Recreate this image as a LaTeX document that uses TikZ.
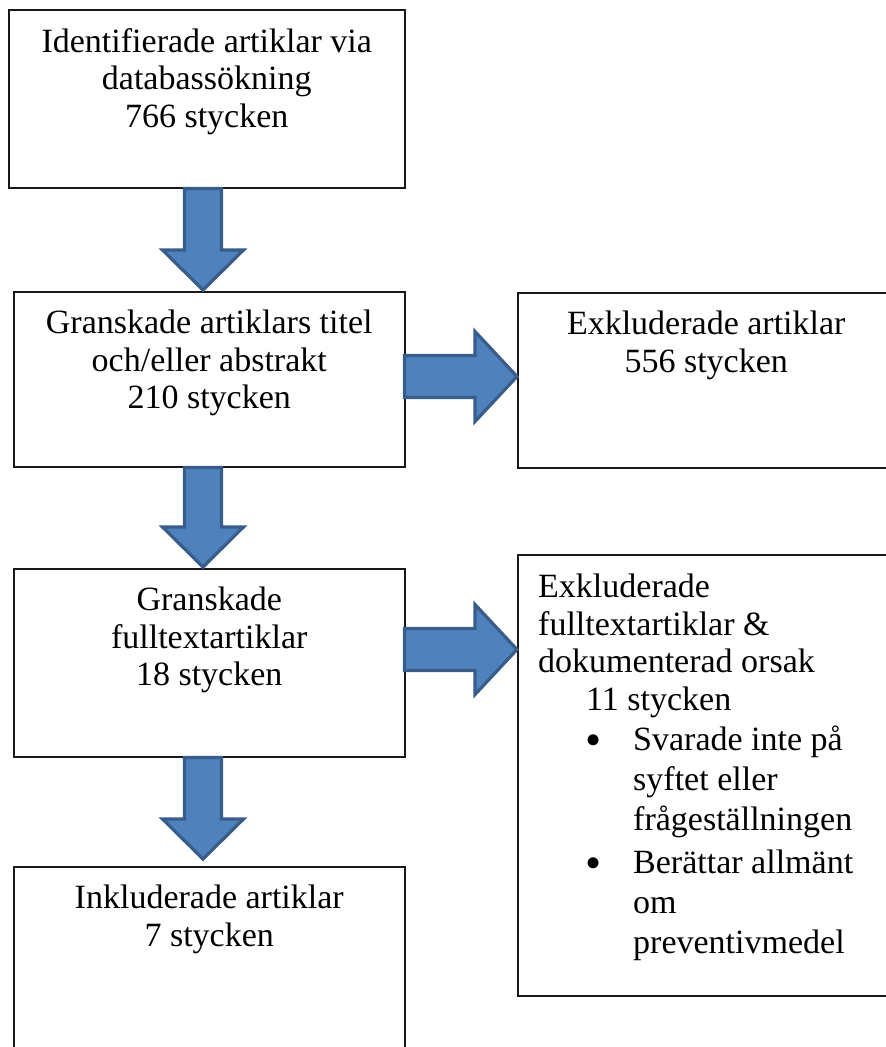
\documentclass[tikz,border=0pt]{standalone}
\usepackage{fontspec}
\setmainfont{Liberation Serif}
\usepackage{tikz}
\tikzset{every picture/.style={font issue=\fontsize{34}{37.5}},
         font issue/.style={execute at begin picture={#1\selectfont}}
        }
\usetikzlibrary{calc}
\usetikzlibrary{positioning}
\definecolor{arrowfill}{HTML}{4F81BD}
\definecolor{arrowline}{HTML}{385D8A}
\tikzstyle{stage}=[draw=black!90,line width=1.5pt,anchor=north west,inner sep=0]
\tikzstyle{stagetext}=[align=center,inner sep=0]
\tikzstyle{blockarrow}=[fill=arrowfill,draw=arrowline,line width=3.2pt]
\newcommand{\listdot}{\raisebox{-5pt}{\fontsize{46}{46}\selectfont\textbullet}}

% block arrow downwards, #1 = gap above the target
\newcommand{\flowdown}[3][0pt]{%
  \path[blockarrow] let \p1=(#2.south -| axis), \p2=(#3.north -| axis) in
    (\x1-18.5pt,\y1) -- (\x1+18.5pt,\y1) -- (\x1+18.5pt,\y2+#1+40pt)
    -- (\x1+40.5pt,\y2+#1+40pt) -- (\x1,\y2+#1) -- (\x1-40.5pt,\y2+#1+40pt)
    -- (\x1-18.5pt,\y2+#1+40pt) -- cycle;}
% block arrow to the right, #3 = level
\newcommand{\flowright}[3]{%
  \path[blockarrow] let \p1=(#1.east |- #3), \p2=(#2.west |- #3) in
    (\x1-1pt,\y1+21pt) -- (\x2-42pt,\y1+21pt) -- (\x2-42pt,\y1+45pt)
    -- (\x2,\y1) -- (\x2-42pt,\y1-45pt) -- (\x2-42pt,\y1-21pt)
    -- (\x1-1pt,\y1-21pt) -- cycle;}

\begin{document}
\begin{tikzpicture}[x=1pt,y=-1pt]
	\useasboundingbox (0,0) rectangle (886,1047);
	\clip (0,0) rectangle (886,1047);
	
	\node[stage,minimum width=396pt,minimum height=178pt] (ident) at (8,9) {};
	\node[stage,minimum width=391pt,minimum height=175pt] (screen) at (13,291) {};
	\node[stage,minimum width=377pt,minimum height=175pt] (excl) at (517,292) {};
	\node[stage,minimum width=391pt,minimum height=188pt] (full) at (13,568) {};
	\node[stage,minimum width=377pt,minimum height=441pt] (fullexcl) at (517,554) {};
	\node[stage,minimum width=391pt,minimum height=200pt] (incl) at (13,866) {};
	
	\node[stagetext,below=19pt of ident.north] (ident-t)
	{Identifierade artiklar via\\ databassökning\\ 766 stycken};
	\node[stagetext,below=19pt of screen.north] (screen-t)
	{Granskade artiklars titel\\ och/eller abstrakt\\ 210 stycken};
	\node[stagetext,below=19pt of excl.north] (excl-t)
	{Exkluderade artiklar\\ 556 stycken};
	\node[stagetext,below=19pt of full.north] (full-t)
	{Granskade\\ fulltextartiklar\\ 18 stycken};
	\node[stagetext,align=left,below right=20pt and 21pt of fullexcl.north west] (fullexcl-t)
	{Exkluderade\\ fulltextartiklar \&\\ dokumenterad orsak\\
	 \hspace*{48pt}11 stycken\\[2.5pt]
	 \hspace*{47pt}\makebox[48pt][l]{\listdot}Svarade inte på\\[2.5pt]
	 \hspace*{95pt}syftet eller\\[2.5pt]
	 \hspace*{95pt}frågeställningen\\[5.5pt]
	 \hspace*{47pt}\makebox[48pt][l]{\listdot}Berättar allmänt\\[2.5pt]
	 \hspace*{95pt}om\\[2.5pt]
	 \hspace*{95pt}preventivmedel};
	\node[stagetext,below=19pt of incl.north] (incl-t)
	{Inkluderade artiklar\\ 7 stycken};
	
	\coordinate (axis) at (203,0);
	\coordinate (lvl-a) at (0,376.5);
	\coordinate (lvl-b) at (0,649.5);
	
	\flowdown[1pt]{ident}{screen}
	\flowdown[1pt]{screen}{full}
	\flowdown[7pt]{full}{incl}
	\flowright{screen}{excl}{lvl-a}
	\flowright{full}{fullexcl}{lvl-b}
	
\end{tikzpicture}
\end{document}
